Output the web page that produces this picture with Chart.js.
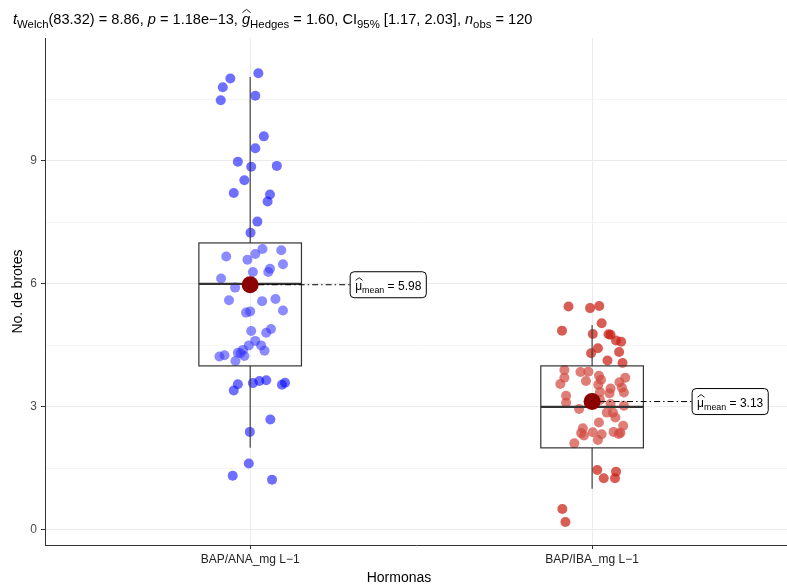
<!DOCTYPE html>
<html>
<head>
<meta charset="utf-8">
<script src="https://cdn.jsdelivr.net/npm/chart.js@4.4.0/dist/chart.umd.min.js"></script>
<style>
  html, body { margin: 0; padding: 0; background: #fff; }
</style>
</head>
<body>
<canvas id="brotesChart" width="787" height="585"></canvas>
<script>
// Categories and tick labels
const categories = ['BAP/ANA_mg L\u22121', 'BAP/IBA_mg L\u22121'];
const yTicks = [0, 1.5, 3, 4.5, 6, 7.5, 9, 10.5];
const yMajor = [0, 3, 6, 9];

// Jittered observations (x = group position + jitter)
const anaX = [1.024, 0.942, 0.920, 0.914, 1.015, 1.040, 1.015, 0.964, 1.003, 1.078,
              0.983, 0.952, 1.058, 1.051, 1.021, 1.001, 1.036, 1.091, 0.930, 1.015,
              0.992, 1.096, 1.008, 1.058, 1.053, 0.915, 0.956, 0.938, 1.035, 1.074,
              0.988, 1.000, 1.096, 1.003, 1.047, 1.061, 1.015, 0.996, 1.032, 1.042,
              0.979, 0.964, 0.983, 0.972, 0.910, 0.925, 0.957, 0.964, 0.952, 1.008,
              1.027, 1.047, 1.093, 1.102, 1.059, 0.999, 0.996, 0.949, 1.064];
const anaY = [11.14, 11.01, 10.80, 10.48, 10.59, 9.60, 9.31, 8.98, 8.86, 8.88,
              8.53, 8.22, 8.18, 8.01, 7.52, 7.25, 6.85, 6.82, 6.67, 6.73,
              6.59, 6.48, 6.29, 6.37, 6.29, 6.13, 5.91, 5.60, 5.58, 5.63,
              5.30, 5.33, 5.35, 4.85, 4.81, 4.90, 4.61, 4.50, 4.50, 4.37,
              4.39, 4.32, 4.24, 4.31, 4.23, 4.26, 4.12, 3.55, 3.40, 3.58,
              3.63, 3.65, 3.54, 3.59, 2.69, 2.39, 1.62, 1.32, 1.22];
const ibaX = [1.931, 1.994, 2.021, 2.028, 1.912, 2.002, 2.048, 2.054, 2.070, 2.085,
              2.017, 1.997, 2.079, 2.045, 2.089, 1.919, 1.966, 1.989, 1.919, 2.020,
              2.026, 1.982, 1.907, 2.097, 2.080, 2.018, 2.087, 2.054, 2.023, 2.051,
              2.093, 1.924, 1.924, 2.023, 2.054, 2.093, 1.962, 2.043, 2.061, 2.068,
              2.020, 2.091, 1.973, 1.968, 1.976, 2.002, 2.028, 2.017, 2.063, 2.078,
              2.083, 1.948, 2.015, 2.070, 2.034, 2.067, 1.913, 1.922];
const ibaY = [5.45, 5.41, 5.46, 5.04, 4.86, 4.78, 4.77, 4.76, 4.62, 4.59,
              4.43, 4.31, 4.34, 4.13, 4.07, 3.90, 3.85, 3.86, 3.71, 3.76,
              3.66, 3.63, 3.56, 3.71, 3.60, 3.54, 3.47, 3.45, 3.36, 3.33,
              3.35, 3.27, 3.10, 3.17, 3.07, 3.03, 2.95, 2.86, 2.86, 2.74,
              2.62, 2.54, 2.48, 2.36, 2.30, 2.38, 2.33, 2.19, 2.39, 2.34,
              2.37, 2.11, 1.46, 1.42, 1.26, 1.26, 0.51, 0.19];

// Box plot summaries and means per group
const q1 = [4, 2];
const medians = [6, 3];
const q3 = [7, 4];
const whiskLo = [2, 1];
const whiskHi = [11.05, 5];
const means = [5.98, 3.13];

const FONT = '"Liberation Sans", Arial, Helvetica, sans-serif';

function toPoints(xs, ys) {
    return xs.map((x, i) => ({ x: x, y: ys[i] }));
}

// rich text: segments with italic / subscript / hat
function drawRich(ctx, segs, x, y, size, subScale, measureOnly) {
    let cx = x;
    segs.forEach(s => {
        const fs = s.sub ? size * subScale : size;
        ctx.font = (s.it ? 'italic ' : '') + fs + 'px ' + FONT;
        const dy = s.sub ? size * 0.3 : 0;
        const w = ctx.measureText(s.t).width;
        if (!measureOnly) {
            ctx.fillText(s.t, cx, y + dy);
            if (s.hat) {
                const top = y - size * 1.0;
                ctx.beginPath();
                ctx.moveTo(cx + 0.5, top + size * 0.22);
                ctx.lineTo(cx + w / 2 + 0.5, top);
                ctx.lineTo(cx + w + 0.5, top + size * 0.22);
                ctx.lineWidth = 0.9;
                ctx.strokeStyle = '#000';
                ctx.stroke();
            }
        }
        cx += w;
    });
    return cx - x;
}

const boxPlugin = {
    id: 'boxes',
    beforeDatasetDraw(chart, args) {
        if (args.index !== 0) return;
        const ctx = chart.ctx;
        const xs = chart.scales.x, ys = chart.scales.y;
        ctx.save();
        for (let i = 0; i < categories.length; i++) {
            const cx = xs.getPixelForValue(i + 1);
            const left = xs.getPixelForValue(i + 1 - 0.15);
            const right = xs.getPixelForValue(i + 1 + 0.15);
            const yq1 = ys.getPixelForValue(q1[i]);
            const yq3 = ys.getPixelForValue(q3[i]);
            const ymed = ys.getPixelForValue(medians[i]);
            ctx.strokeStyle = '#333333';
            ctx.lineWidth = 1.1;
            // whiskers
            ctx.beginPath();
            ctx.moveTo(cx, ys.getPixelForValue(whiskHi[i]));
            ctx.lineTo(cx, yq3);
            ctx.moveTo(cx, yq1);
            ctx.lineTo(cx, ys.getPixelForValue(whiskLo[i]));
            ctx.stroke();
            // box
            ctx.fillStyle = 'rgba(255,255,255,0.2)';
            ctx.fillRect(left, yq3, right - left, yq1 - yq3);
            ctx.lineWidth = 1.2;
            ctx.strokeRect(left, yq3, right - left, yq1 - yq3);
            // median
            ctx.lineWidth = 2.3;
            ctx.beginPath();
            ctx.moveTo(left, ymed);
            ctx.lineTo(right, ymed);
            ctx.stroke();
        }
        ctx.restore();
    },
    afterDatasetsDraw(chart) {
        const ctx = chart.ctx;
        const xs = chart.scales.x, ys = chart.scales.y;
        ctx.save();
        ctx.textBaseline = 'alphabetic';
        ctx.fillStyle = '#000';
        // mean labels
        for (let i = 0; i < means.length; i++) {
            const mx = xs.getPixelForValue(i + 1);
            const my = ys.getPixelForValue(means[i]);
            const segs = [{ t: '\u03bc', hat: true }, { t: 'mean', sub: true }, { t: ' = ' + means[i].toFixed(2) }];
            const tw = drawRich(ctx, segs, 0, 0, 12, 0.74, true);
            const bx = mx + 100, bw = tw + 10, bh = 26, by = my - bh / 2;
            ctx.setLineDash([6, 3, 1.5, 3]);
            ctx.lineWidth = 1;
            ctx.strokeStyle = '#000';
            ctx.beginPath();
            ctx.moveTo(mx + 8, my);
            ctx.lineTo(bx, my);
            ctx.stroke();
            ctx.setLineDash([]);
            ctx.fillStyle = '#fff';
            ctx.beginPath();
            ctx.roundRect(bx, by, bw, bh, 4);
            ctx.fill();
            ctx.lineWidth = 1;
            ctx.stroke();
            ctx.fillStyle = '#000';
            drawRich(ctx, segs, bx + 5, my + 5, 12, 0.74, false);
        }
        // subtitle with statistics
        const title = [
            { t: 't', it: true }, { t: 'Welch', sub: true }, { t: '(83.32) = 8.86, ' },
            { t: 'p', it: true }, { t: ' = 1.18e\u221213, ' },
            { t: 'g', it: true, hat: true }, { t: 'Hedges', sub: true }, { t: ' = 1.60, CI' },
            { t: '95%', sub: true }, { t: ' [1.17, 2.03], ' },
            { t: 'n', it: true }, { t: 'obs', sub: true }, { t: ' = 120' }
        ];
        ctx.fillStyle = '#000';
        drawRich(ctx, title, 13, 24, 14.6, 0.78, false);
        // x axis title
        ctx.font = '14px ' + FONT;
        ctx.textAlign = 'center';
        ctx.fillText('Hormonas', 399, 582);
        ctx.restore();
    }
};

new Chart(document.getElementById('brotesChart'), {
    type: 'scatter',
    data: {
        datasets: [{
            label: 'mean',
            data: means.map((m, i) => ({ x: i + 1, y: m })),
            backgroundColor: '#8B0000',
            borderWidth: 0,
            pointRadius: 8.5
        }, {
            label: categories[0],
            data: toPoints(anaX, anaY),
            backgroundColor: 'rgba(0,0,255,0.57)',
            borderWidth: 0,
            pointRadius: 5
        }, {
            label: categories[1],
            data: toPoints(ibaX, ibaY),
            backgroundColor: 'rgba(200,30,20,0.72)',
            borderWidth: 0,
            pointRadius: 5
        }]
    },
    options: {
        responsive: false,
        animation: false,
        events: [],
        layout: {
            autoPadding: false,
            padding: { top: 38, left: 0, right: 0, bottom: 0 }
        },
        plugins: {
            legend: { display: false },
            tooltip: { enabled: false }
        },
        scales: {
            x: {
                type: 'linear',
                min: 0.4,
                max: 2.57,
                afterFit: function(scale) { scale.height = 40; },
                afterBuildTicks: function(scale) {
                    scale.ticks = categories.map((c, i) => ({ value: i + 1 }));
                },
                grid: {
                    color: '#EBEBEB',
                    tickColor: '#333333',
                    tickLength: 4,
                    lineWidth: 1
                },
                border: { display: true, color: '#333333', width: 1 },
                ticks: {
                    padding: 3,
                    color: '#222222',
                    font: { family: FONT, size: 12 },
                    maxRotation: 0,
                    callback: function(value) {
                        return categories[Math.round(value) - 1];
                    }
                },
                title: { display: false }
            },
            y: {
                min: -0.37,
                max: 12.0,
                afterFit: function(scale) { scale.width = 45; },
                afterBuildTicks: function(scale) {
                    scale.ticks = yTicks.map(v => ({ value: v }));
                },
                grid: {
                    color: function(c) {
                        return yMajor.includes(c.tick.value) ? '#EBEBEB' : '#F4F4F4';
                    },
                    tickColor: function(c) {
                        return yMajor.includes(c.tick.value) ? '#333333' : 'rgba(0,0,0,0)';
                    },
                    tickLength: 4,
                    lineWidth: 1
                },
                border: { display: true, color: '#333333', width: 1 },
                ticks: {
                    padding: 4,
                    color: '#4D4D4D',
                    font: { family: FONT, size: 12 },
                    callback: function(value) {
                        return yMajor.includes(value) ? String(value) : '';
                    }
                },
                title: {
                    display: true,
                    text: 'No. de brotes',
                    color: '#000',
                    font: { family: FONT, size: 14 },
                    padding: { top: 10, bottom: 0 }
                }
            }
        }
    },
    plugins: [boxPlugin]
});
</script>
</body>
</html>
